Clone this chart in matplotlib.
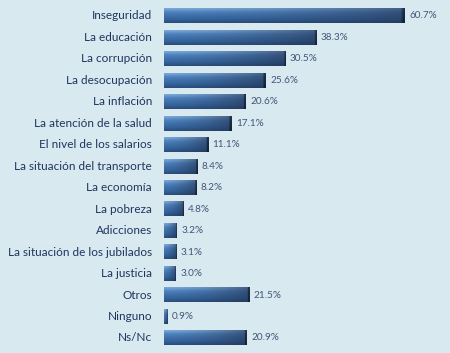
import numpy as np
import matplotlib
matplotlib.use("Agg")
import matplotlib.pyplot as plt
from matplotlib.colors import LinearSegmentedColormap

categories = ["Inseguridad", "La educación", "La corrupción", "La desocupación",
              "La inflación", "La atención de la salud", "El nivel de los salarios",
              "La situación del transporte", "La economía", "La pobreza",
              "Adicciones", "La situación de los jubilados", "La justicia",
              "Otros", "Ninguno", "Ns/Nc"]
values = [60.7, 38.3, 30.5, 25.6, 20.6, 17.1, 11.1, 8.4, 8.2, 4.8,
          3.2, 3.1, 3.0, 21.5, 0.9, 20.9]
value_labels = ["60.7%", "38.3%", "30.5%", "25.6%", "20.6%", "17.1%", "11.1%",
                "8.4%", "8.2%", "4.8%", "3.2%", "3.1%", "3.0%", "21.5%",
                "0.9%", "20.9%"]

bg = "#d8e9ef"
plt.rcParams['font.family'] = ['Lato', 'DejaVu Sans']

fig = plt.figure(figsize=(4.5, 3.53), dpi=100, facecolor=bg)
ax = fig.add_axes([164 / 450, 0, 1 - 164 / 450, 1])
ax.set_facecolor(bg)

y = np.arange(len(categories))
bars = ax.barh(y, values, height=0.68, color="#3a6aa3", edgecolor="none")

ax.set_xlim(0, 286 / 3.97)
ax.set_ylim(15.70, -0.745)

# bevelled gradient: light top edge, darker toward bottom and right end
vert = LinearSegmentedColormap.from_list(
    "v", ["#7aa9da", "#4f82bd", "#3f71ab", "#35649c", "#2a4e7c"])
for bar in bars:
    x0, y0 = bar.get_x(), bar.get_y()
    w, h = bar.get_width(), bar.get_height()
    ny, nx = 20, 80
    vy = np.linspace(0, 1, ny)[:, None]
    base = vert(vy)[:, :, :3] * np.ones((1, nx, 1))
    hx = np.linspace(0, 1, nx)[None, :, None] ** 1.6
    dark = np.array([0.13, 0.19, 0.30])
    img = base * (1 - 0.6 * hx) + dark * 0.6 * hx
    # darker right cap
    cap = max(1, int(nx * min(0.05, 0.7 / max(w, 0.1))))
    img[:, -cap:, :] = img[:, -cap:, :] * 0.55
    ax.imshow(img, extent=(x0, x0 + w, y0 + h, y0), aspect="auto",
              interpolation="bilinear", zorder=3)
    bar.set_visible(False)

for i, (v, lab) in enumerate(zip(values, value_labels)):
    ax.text(v + 1.1, i, lab, va="center", ha="left", fontsize=7.2,
            color="#45557a")
    ax.text(-3.0, i, categories[i], va="center", ha="right", fontsize=8.5,
            color="#1f3560", clip_on=False)

ax.set_xticks([])
ax.set_yticks([])
for s in ax.spines.values():
    s.set_visible(False)

fig.savefig("out.png", dpi=100, facecolor=bg)
